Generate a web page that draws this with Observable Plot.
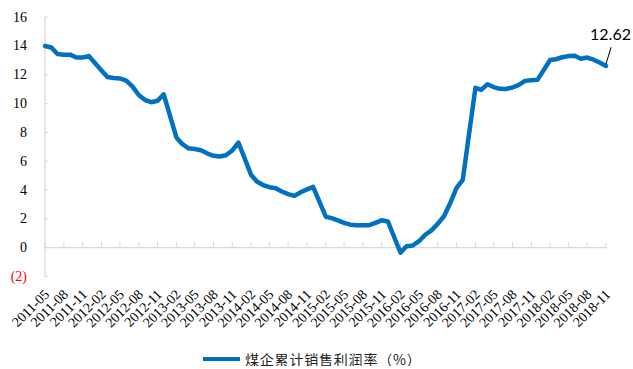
<!DOCTYPE html>
<html>
<head>
<meta charset="utf-8">
<script src="https://cdn.jsdelivr.net/npm/d3@7"></script>
<script src="https://cdn.jsdelivr.net/npm/@observablehq/plot@0.6"></script>
<style>
  body { margin: 0; background: #fff; overflow: hidden; }
  #legend {
    height: 14px; line-height: 14px; display: flex; align-items: center; padding-left: 203px;
    font-family: "Noto Sans CJK SC", sans-serif; font-size: 14px; letter-spacing: 0.8px; color: #222;
  }
  #legend .swatch { width: 37px; height: 4.5px; background: #0070C0; margin-right: 5px; }
</style>
</head>
<body>
<div id="chart"></div>
<div id="legend"><span class="swatch"></span><span id="legend-label"></span></div>
<script>
// Monthly cumulative sales profit margin of coal enterprises (%); January is not reported separately.
const months = [
  "2011-05","2011-06","2011-07","2011-08","2011-09","2011-10","2011-11","2011-12",
  "2012-02","2012-03","2012-04","2012-05","2012-06","2012-07","2012-08","2012-09","2012-10","2012-11","2012-12",
  "2013-02","2013-03","2013-04","2013-05","2013-06","2013-07","2013-08","2013-09","2013-10","2013-11","2013-12",
  "2014-02","2014-03","2014-04","2014-05","2014-06","2014-07","2014-08","2014-09","2014-10","2014-11","2014-12",
  "2015-02","2015-03","2015-04","2015-05","2015-06","2015-07","2015-08","2015-09","2015-10","2015-11","2015-12",
  "2016-02","2016-03","2016-04","2016-05","2016-06","2016-07","2016-08","2016-09","2016-10","2016-11","2016-12",
  "2017-02","2017-03","2017-04","2017-05","2017-06","2017-07","2017-08","2017-09","2017-10","2017-11","2017-12",
  "2018-02","2018-03","2018-04","2018-05","2018-06","2018-07","2018-08","2018-09","2018-10","2018-11"
];
const rates = [
  14.0, 13.9, 13.45, 13.4, 13.4, 13.2, 13.2, 13.3,
  12.3, 11.85, 11.78, 11.75, 11.6, 11.2, 10.6, 10.25, 10.1, 10.2, 10.65,
  7.65, 7.2, 6.9, 6.85, 6.77, 6.55, 6.38, 6.33, 6.42, 6.75, 7.3,
  5.05, 4.6, 4.35, 4.2, 4.13, 3.9, 3.72, 3.6, 3.85, 4.05, 4.22,
  2.15, 2.05, 1.9, 1.72, 1.6, 1.56, 1.56, 1.56, 1.72, 1.9, 1.82,
  -0.35, 0.1, 0.15, 0.45, 0.9, 1.2, 1.65, 2.2, 3.1, 4.15, 4.7,
  11.1, 10.95, 11.35, 11.15, 11.03, 11.02, 11.12, 11.3, 11.58, 11.62, 11.65,
  13.03, 13.08, 13.22, 13.3, 13.32, 13.12, 13.2, 13.05, 12.85, 12.62
];
const tickLabels = [
  "2011-05","2011-08","2011-11","2012-02","2012-05","2012-08","2012-11","2013-02",
  "2013-05","2013-08","2013-11","2014-02","2014-05","2014-08","2014-11","2015-02",
  "2015-05","2015-08","2015-11","2016-02","2016-05","2016-08","2016-11","2017-02",
  "2017-05","2017-08","2017-11","2018-02","2018-05","2018-08","2018-11"
];
const yTicks = [-2, 0, 2, 4, 6, 8, 10, 12, 14, 16];
const seriesName = "煤企累计销售利润率（%）";

const parseMonth = d3.utcParse("%Y-%m");
const formatMonth = d3.utcFormat("%Y-%m");
const data = months.map((m, i) => ({date: parseMonth(m), rate: rates[i]}));
const tickDates = tickLabels.map(parseMonth);
const last = data[data.length - 1];
const axisColor = "#d9d9d9";

const chart = Plot.plot({
  width: 633,
  height: 352,
  marginLeft: 44.5,
  marginRight: 27.5,
  marginTop: 16.7,
  marginBottom: 76,
  x: {type: "utc", domain: [data[0].date, last.date], label: null},
  y: {domain: [-2, 16], label: null},
  style: {fontFamily: "'Liberation Serif', serif", fontSize: "14px", background: "#fff", color: "#000"},
  marks: [
    // vertical value axis line with small inward ticks
    Plot.ruleX([data[0].date], {stroke: axisColor, strokeWidth: 1.25}),
    Plot.ruleY(yTicks, {x1: () => data[0].date, x2: () => data[0].date, insetRight: -4, stroke: axisColor}),
    // horizontal axis line at zero with ticks every quarter
    Plot.ruleY([0], {stroke: axisColor, strokeWidth: 1.25, insetRight: -1.5}),
    Plot.ruleX(tickDates, {y1: 0, y2: 0, insetTop: -5, stroke: axisColor}),
    Plot.axisY(yTicks.filter((d) => d >= 0), {tickSize: 0, tickPadding: 18, fill: "#000", label: null}),
    Plot.axisY(yTicks.filter((d) => d < 0), {tickSize: 0, tickPadding: 18, fill: "#ff0000", label: null, tickFormat: (d) => `(${-d})`}),
    Plot.axisX(tickDates, {
      tickSize: 0, tickRotate: -45, tickPadding: 15.5, dx: 2,
      textAnchor: "end", lineAnchor: "middle", label: null,
      tickFormat: formatMonth, fill: "#000"
    }),
    Plot.line(data, {x: "date", y: "rate", stroke: "#0070C0", strokeWidth: 4.5, strokeLinejoin: "round", strokeLinecap: "round"}),
    // callout for the latest value
    Plot.vector([last], {
      x: "date", y: "rate", length: 17, rotate: 17, anchor: "start", dy: -2,
      stroke: "#000", strokeWidth: 1,
      shape: {draw(context, l) { context.moveTo(0, 0); context.lineTo(0, -l); }}
    }),
    Plot.text([last], {
      x: "date", y: "rate", text: (d) => d.rate.toFixed(2), dx: 4.5, dy: -31,
      fontFamily: "Lato, sans-serif", fontSize: 16, fill: "#000"
    })
  ]
});

document.getElementById("chart").append(chart);
document.getElementById("legend-label").textContent = seriesName;
</script>
</body>
</html>
